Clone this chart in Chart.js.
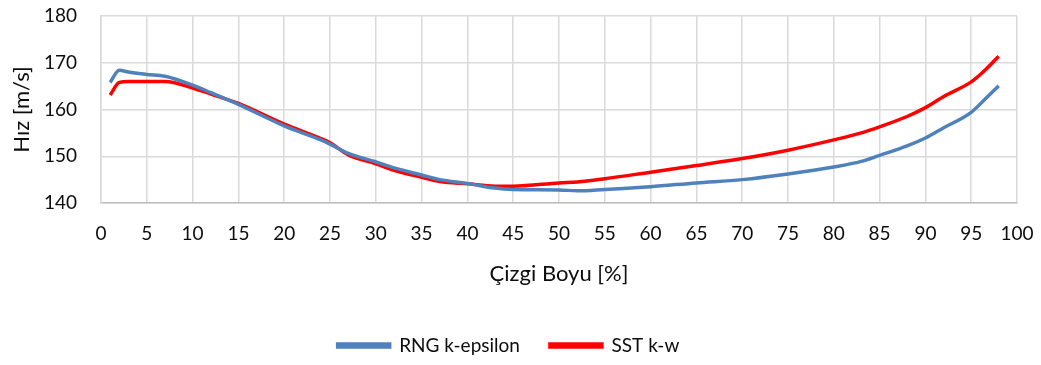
<!DOCTYPE html>
<html>
<head>
<meta charset="utf-8">
<script src="https://cdn.jsdelivr.net/npm/chart.js@4"></script>
<style>
  html, body { margin: 0; padding: 0; background: #fff; }
  #wrap { width: 1041px; height: 365px; }
</style>
</head>
<body>
<div id="wrap"><canvas id="chart" width="1041" height="365"></canvas></div>
<script>
// Chart data
const positions = [1, 2, 3, 5, 7, 10, 12, 15, 20, 24, 25, 27, 30, 32, 35, 37, 40, 43, 45, 50, 52, 55, 60, 65, 70, 75, 80, 83, 85, 88, 90, 92, 95, 96.5, 98];
const rngValues = [165.8, 168.4, 168.0, 167.5, 167.1, 165.2, 163.6, 161.1, 156.5, 153.5, 152.6, 150.6, 148.8, 147.5, 146.0, 145.0, 144.2, 143.2, 142.9, 142.8, 142.6, 142.9, 143.5, 144.3, 145.0, 146.2, 147.7, 148.9, 150.2, 152.2, 153.9, 156.1, 159.4, 162.2, 165.1];
const sstValues = [163.1, 165.8, 166.0, 166.0, 166.0, 164.6, 163.3, 161.3, 156.9, 153.8, 152.9, 150.3, 148.4, 147.0, 145.5, 144.6, 144.1, 143.6, 143.6, 144.3, 144.5, 145.2, 146.6, 148.0, 149.5, 151.3, 153.5, 155.0, 156.3, 158.5, 160.4, 162.8, 165.9, 168.4, 171.4];
const seriesNames = ['RNG k-epsilon', 'SST k-w'];
const xTitle = 'Çizgi Boyu [%]';
const yTitle = 'Hız [m/s]';

const FONT = 'Lato, "Open Sans", sans-serif';
const TEXT = '#0d0d0d';

function toPoints(values) {
    return positions.map((x, i) => ({ x: x, y: values[i] }));
}

new Chart(document.getElementById('chart').getContext('2d'), {
    type: 'line',
    data: {
        datasets: [
            {
                label: seriesNames[0],
                data: toPoints(rngValues),
                borderColor: '#4F81BD',
                backgroundColor: '#4F81BD',
                borderWidth: 3.5,
                pointRadius: 0,
                tension: 0.4,
                cubicInterpolationMode: 'monotone'
            },
            {
                label: seriesNames[1],
                data: toPoints(sstValues),
                borderColor: '#FF0000',
                backgroundColor: '#FF0000',
                borderWidth: 3.5,
                pointRadius: 0,
                tension: 0.4,
                cubicInterpolationMode: 'monotone'
            }
        ]
    },
    options: {
        responsive: false,
        animation: false,
        layout: { padding: { left: 0, right: 24, top: 16, bottom: 0 } },
        plugins: {
            legend: {
                position: 'bottom',
                labels: {
                    boxWidth: 52,
                    boxHeight: 3,
                    padding: 30,
                    color: TEXT,
                    font: { family: FONT, size: 19 }
                }
            },
            tooltip: { enabled: false }
        },
        scales: {
            x: {
                type: 'linear',
                min: 0,
                max: 100,
                ticks: { stepSize: 5, color: TEXT, font: { family: FONT, size: 19 }, padding: 19 },
                grid: { color: '#D9D9D9', lineWidth: 1.5, drawTicks: false },
                border: { color: '#BFBFBF', width: 1.5 },
                title: { display: true, text: xTitle, color: TEXT, font: { family: FONT, size: 22 }, padding: { top: 4, bottom: 19 } },
                afterFit: s => { s.height = 103; s.paddingRight = 0; s.paddingLeft = 0; }
            },
            y: {
                min: 140,
                max: 180,
                ticks: { stepSize: 10, color: TEXT, font: { family: FONT, size: 19 }, padding: 24 },
                grid: { color: '#D9D9D9', lineWidth: 1.5, drawTicks: false },
                border: { color: '#D9D9D9', width: 1.5 },
                title: { display: true, text: yTitle, color: TEXT, font: { family: FONT, size: 22 }, padding: { top: 9, bottom: 4 } },
                afterFit: s => { s.width = 101; s.paddingTop = 0; s.paddingBottom = 0; }
            }
        }
    }
});
</script>
</body>
</html>
